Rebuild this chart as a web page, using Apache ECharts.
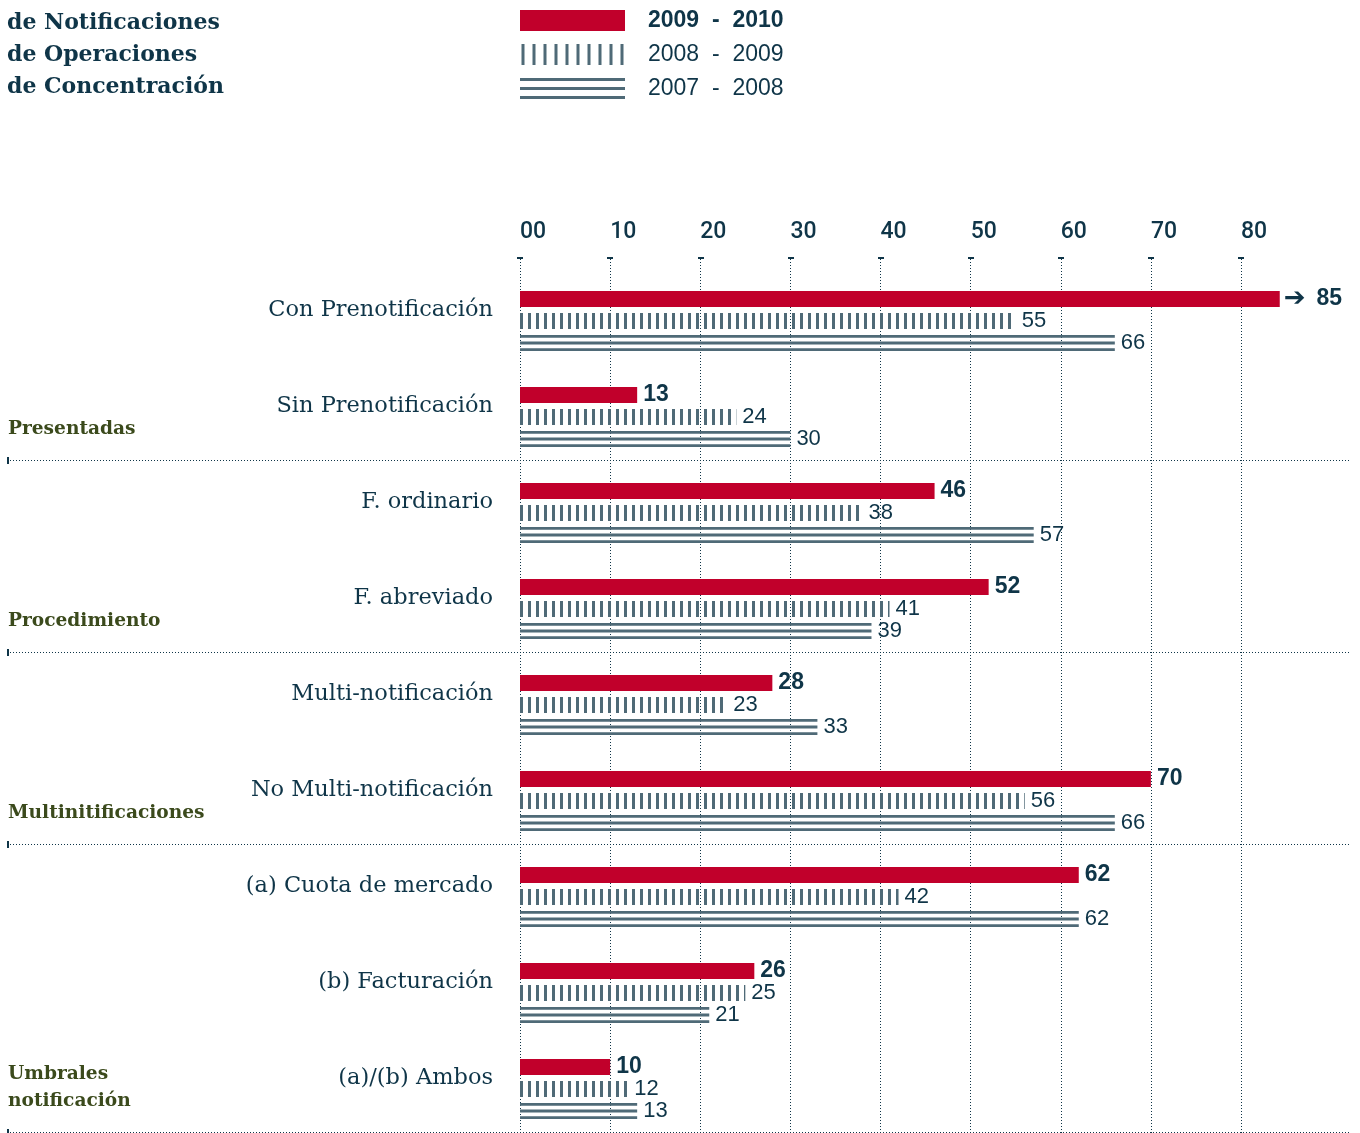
<!DOCTYPE html>
<html>
<head>
<meta charset="utf-8">
<script src="https://cdn.jsdelivr.net/npm/echarts@6/dist/echarts.min.js"></script>
<style>
html,body{margin:0;padding:0;background:#ffffff;}
#chart{width:1360px;height:1133px;}
</style>
</head>
<body>
<div id="chart"></div>
<script>
// ---------------- DATA ----------------
const titleLines = ['de Notificaciones', 'de Operaciones', 'de Concentración'];
const categories = [
  'Con Prenotificación', 'Sin Prenotificación',
  'F. ordinario', 'F. abreviado',
  'Multi-notificación', 'No Multi-notificación',
  '(a) Cuota de mercado', '(b) Facturación', '(a)/(b) Ambos'
];
const seriesNames = ['2009  -  2010', '2008  -  2009', '2007  -  2008'];
const values2010 = [85, 13, 46, 52, 28, 70, 62, 26, 10];
const values2009 = [55, 24, 38, 41, 23, 56, 42, 25, 12];
const values2008 = [66, 30, 57, 39, 33, 66, 62, 21, 13];
// group labels sit on the boundaries between rows (10 boundaries for 9 rows)
const groupLabels = ['', '', 'Presentadas', '', 'Procedimiento', '', 'Multinitificaciones', '', '', 'Umbrales\nnotificación'];
const groupSeparators = [2, 4, 6, 9];
const tickLabels = ['00', '10', '20', '30', '40', '50', '60', '70', '80'];

// ---------------- STYLE ----------------
const RED = '#c1002b';
const SLATE = '#4f6a77';
const NAVY = '#0f3548';
const OLIVE = '#3b4a1c';
const SANS = '"Liberation Sans", Arial, sans-serif';
const SERIF = '"DejaVu Serif", serif';
const AXIS_MAX = 80;
const BAR_CAP = 84.3; // bars longer than this are cut and marked with an arrow

// vertical stripe pattern for 2008-2009
const stripeCanvas = document.createElement('canvas');
stripeCanvas.width = 8; stripeCanvas.height = 4;
(function () {
  const c = stripeCanvas.getContext('2d');
  c.fillStyle = SLATE;
  c.fillRect(0, 0, 3, 4);
})();

const stripeIcon = 'path://' + Array.from({length: 10}, (_, k) => 'M' + (k * 11) + ',0h3v21h-3z').join(' ');
const linesIcon = 'path://M0,0h105v3h-105z M0,9h105v3h-105z M0,18h105v3h-105z';

const chart = echarts.init(document.getElementById('chart'), null, {renderer: 'canvas'});

const option = {
  backgroundColor: '#ffffff',
  animation: false,
  title: {
    text: titleLines.join('\n'),
    left: 2, top: 2,
    textStyle: {fontFamily: SERIF, fontWeight: 'bold', fontSize: 22, lineHeight: 32, color: NAVY}
  },
  legend: {
    orient: 'vertical',
    left: 520, top: 9,
    itemWidth: 105, itemHeight: 21, itemGap: 11,
    padding: 0,
    selectedMode: false,
    textStyle: {fontFamily: SANS, fontSize: 23, color: NAVY, padding: [0, 0, 0, 18]},
    data: [
      {name: seriesNames[0], icon: 'rect', itemStyle: {color: RED}, textStyle: {fontWeight: 'bold'}},
      {name: seriesNames[1], icon: stripeIcon, itemStyle: {color: SLATE}},
      {name: seriesNames[2], icon: linesIcon, itemStyle: {color: SLATE}}
    ]
  },
  grid: [
    // bars
    {left: 520, width: 721, top: 262, height: 864, containLabel: false},
    // value axis display (ticks, labels, dotted lines)
    {left: 520, width: 721, top: 259, bottom: 0, containLabel: false},
    // group separators and group labels
    {left: 7, right: 10, top: 268, height: 864, containLabel: false}
  ],
  xAxis: [
    {gridIndex: 0, type: 'value', min: 0, max: AXIS_MAX, interval: 10, show: false},
    {
      gridIndex: 1, type: 'value', position: 'top', min: 0, max: AXIS_MAX, interval: 10,
      axisLine: {show: false, onZero: false},
      axisTick: {show: true, length: 2, lineStyle: {color: NAVY, width: 6}},
      axisLabel: {
        margin: 15, align: 'left', fontFamily: 'Roboto, ' + SANS, fontWeight: 500, fontSize: 23, color: NAVY,
        formatter: (v) => tickLabels[Math.round(v / 10)]
      },
      splitLine: {show: true, lineStyle: {color: NAVY, width: 1, type: [1, 2]}}
    },
    {gridIndex: 2, type: 'value', min: 0, max: 1, show: false}
  ],
  yAxis: [
    {
      gridIndex: 0, type: 'category', inverse: true, data: categories,
      axisLine: {show: false}, axisTick: {show: false}, splitLine: {show: false},
      axisLabel: {margin: 27, fontFamily: SERIF, fontSize: 22.5, color: NAVY, interval: 0}
    },
    {gridIndex: 1, type: 'value', min: 0, max: 1, show: false},
    {
      gridIndex: 2, type: 'category', inverse: true, boundaryGap: false,
      data: groupLabels.map((_, i) => 'b' + i),
      axisLine: {show: false, onZero: false},
      axisTick: {
        show: true, inside: true, length: 2,
        interval: (idx) => groupSeparators.includes(idx),
        lineStyle: {color: NAVY, width: 7}
      },
      splitLine: {
        show: true,
        interval: (idx) => groupSeparators.includes(idx),
        lineStyle: {color: NAVY, width: 1, type: [1, 2]}
      },
      axisLabel: {
        inside: true, margin: 1, interval: 0, align: 'left', verticalAlign: 'bottom',
        padding: [0, 0, 17, 0],
        fontFamily: SERIF, fontWeight: 'bold', fontSize: 18.6, lineHeight: 27, color: OLIVE,
        formatter: (v, i) => groupLabels[i]
      }
    }
  ],
  series: [
    {
      name: seriesNames[0], type: 'bar', xAxisIndex: 0, yAxisIndex: 0,
      barWidth: 16, barGap: '37.5%', clip: false,
      itemStyle: {color: RED},
      data: values2010.map(v => Math.min(v, BAR_CAP)),
      label: {
        show: true, position: 'right', distance: 4,
        formatter: (p) => {
          const v = values2010[p.dataIndex];
          return v > BAR_CAP ? '{a|➔}{v|' + v + '}' : '{v|' + v + '}';
        },
        rich: {
          a: {fontFamily: '"DejaVu Sans", sans-serif', fontWeight: 'bold', fontSize: 26, color: NAVY, padding: [0, 9, 0, 0]},
          v: {fontFamily: SANS, fontWeight: 'bold', fontSize: 23, color: NAVY, padding: [0, 0, 0, 2]}
        }
      }
    },
    {
      name: seriesNames[1], type: 'bar', xAxisIndex: 0, yAxisIndex: 0,
      barWidth: 16, barGap: '37.5%', clip: false,
      itemStyle: {color: {image: stripeCanvas, repeat: 'repeat'}},
      data: values2009,
      label: {show: true, position: 'right', distance: 6, fontFamily: SANS, fontSize: 22, color: NAVY}
    },
    {
      name: seriesNames[2], type: 'custom', xAxisIndex: 0, yAxisIndex: 0,
      itemStyle: {color: SLATE},
      encode: {x: 0, y: 1},
      data: values2008.map((v, i) => [v, i]),
      renderItem: (params, api) => {
        const v = api.value(0), i = api.value(1);
        const p0 = api.coord([0, i]);
        const p1 = api.coord([v, i]);
        const top = p0[1] + 25;
        const w = p1[0] - p0[0];
        const children = [0, 1, 2].map(k => ({
          type: 'rect',
          shape: {x: p0[0], y: top + k * 6.6, width: w, height: 2.8},
          style: {fill: SLATE}
        }));
        children.push({
          type: 'text',
          style: {
            text: String(v), x: p1[0] + 6, y: top + 8,
            verticalAlign: 'middle', align: 'left',
            font: '22px ' + SANS, fill: NAVY
          }
        });
        return {type: 'group', children};
      }
    }
  ]
};
chart.setOption(option);
</script>
</body>
</html>
